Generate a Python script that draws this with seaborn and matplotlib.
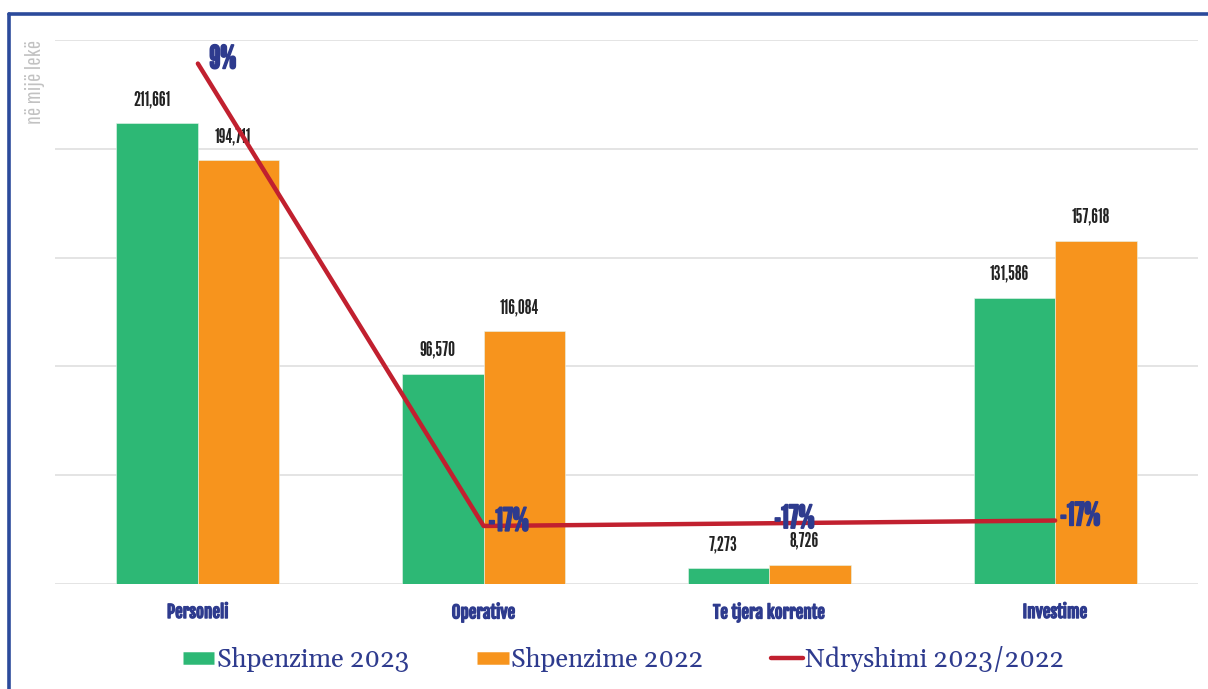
import numpy as np
import pandas as pd
import matplotlib
matplotlib.use("Agg")
import matplotlib.pyplot as plt
import matplotlib.patheffects as pe
import seaborn as sns
from matplotlib.lines import Line2D

categories = ["Personeli", "Operative", "Te tjera korrente", "Investime"]
spend_2023 = [211661, 96570, 7273, 131586]
spend_2022 = [194711, 116084, 8726, 157618]
change_pct = [0.087, -0.168, -0.1665, -0.165]
change_labels = ["9%", "-17%", "-17%", "-17%"]
series_names = ["Shpenzime 2023", "Shpenzime 2022"]
line_name = "Ndryshimi 2023/2022"
y_label = "në mijë lekë"

GREEN = "#2DB875"
ORANGE = "#F7941D"
RED = "#C1202F"
NAVY = "#2E3B8E"
FRAME = "#2B4A9B"
GOTHIC = ["League Gothic", "Antonio", "DejaVu Sans"]
BOLDCOND = ["Fjalla One", "Oswald", "DejaVu Sans"]
THIN = ["Pathway Gothic One", "League Gothic", "DejaVu Sans"]
SERIF = ["Gelasio", "Crimson Pro", "Liberation Serif", "DejaVu Serif"]

sns.set_theme(style="white")
plt.rcParams["font.family"] = ["Liberation Sans", "DejaVu Sans"]

df = pd.DataFrame({
    "cat": categories * 2,
    "value": spend_2023 + spend_2022,
    "series": [series_names[0]] * 4 + [series_names[1]] * 4,
})

W, H = 1208, 689
fig = plt.figure(figsize=(W / 100, H / 100), dpi=100)
ax = fig.add_axes([55 / W, 105 / H, (1198 - 55) / W, (584 - 40) / H])

sns.barplot(data=df, x="cat", y="value", hue="series", order=categories,
            hue_order=series_names, palette=[GREEN, ORANGE], width=0.57,
            gap=0, ax=ax, legend=False, edgecolor="#E8F5EE", linewidth=0.4,
            saturation=1, errorbar=None)
ax.set_ylim(0, 250000)
ax.set_xlim(-0.5, 3.5)
ax.set_yticks(np.arange(0, 250001, 50000))
ax.set_yticklabels([])
ax.tick_params(axis="y", length=0)
ax.tick_params(axis="x", length=0, pad=13)
ax.yaxis.grid(True, color="#E2E2E2", linewidth=1.3)
ax.set_axisbelow(True)
for s in ax.spines.values():
    s.set_visible(False)
ax.set_xlabel("")
ax.set_ylabel("")
for lbl in ax.get_xticklabels():
    lbl.set_family(BOLDCOND)
    lbl.set_color(NAVY)
    lbl.set_fontsize(12.3)
    lbl.set_path_effects([pe.withStroke(linewidth=0.9, foreground=NAVY)])

for cont in ax.containers:
    for bar in cont:
        h = bar.get_height()
        ax.annotate(f"{int(round(h)):,}", (bar.get_x() + bar.get_width() / 2, h),
                    xytext=(-4, 17), textcoords="offset points", ha="center",
                    va="center", fontsize=14, color="#222222", family=GOTHIC)

ax2 = ax.twinx()
xs = np.arange(len(categories))
sns.lineplot(x=xs, y=change_pct, ax=ax2, color=RED, linewidth=3.2, legend=False)
ax2.set_ylim(-0.20, 0.10)
ax2.set_yticks([])
ax2.set_xlim(-0.5, 3.5)
for s in ax2.spines.values():
    s.set_visible(False)
for x, v, t in zip(xs, change_pct, change_labels):
    ax2.annotate(t, (x, v), xytext=(18, 3), textcoords="offset points",
                 ha="center", va="center", fontsize=23,
                 color=NAVY, family=GOTHIC,
                 path_effects=[pe.withStroke(linewidth=1.2, foreground=NAVY)])

fig.text(35 / W, 1 - 40 / H, y_label, rotation=90, ha="center", va="top",
         fontsize=16, color="#C2C2C2", family=THIN)

# frame
fig.add_artist(Line2D([9 / W, 1], [1 - 14 / H, 1 - 14 / H], color=FRAME,
                      linewidth=2.6, transform=fig.transFigure))
fig.add_artist(Line2D([9 / W, 9 / W], [0, 1 - 14 / H], color=FRAME,
                      linewidth=2.6, transform=fig.transFigure))

handles = [
    Line2D([0], [0], color=GREEN, linewidth=9, solid_capstyle="butt"),
    Line2D([0], [0], color=ORANGE, linewidth=9, solid_capstyle="butt"),
    Line2D([0], [0], color=RED, linewidth=3.2, solid_capstyle="round"),
]
fig.legend(handles, series_names + [line_name], loc="center",
           bbox_to_anchor=(0.516, 1 - 659 / H), ncol=3, frameon=False,
           handlelength=1.23, handletextpad=0.1, columnspacing=2.6,
           prop={"family": SERIF, "size": 18.7},
           labelcolor=NAVY)

fig.savefig("out.png", dpi=100)
